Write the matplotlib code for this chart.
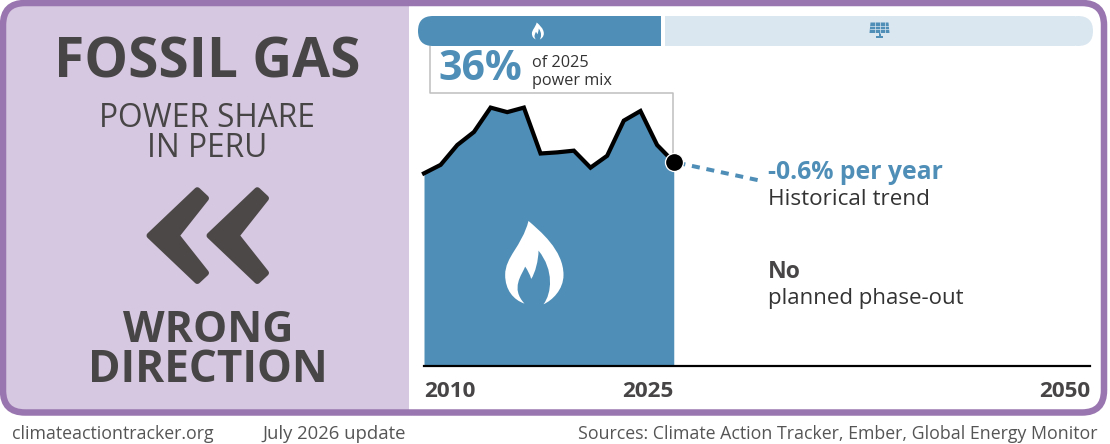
import matplotlib
matplotlib.use("Agg")
import matplotlib.pyplot as plt
from matplotlib.path import Path
from matplotlib.patches import PathPatch, FancyBboxPatch, Rectangle, Polygon

years = list(range(2010, 2026))
share = [34.0, 35.5, 39.0, 41.3, 45.6, 44.8, 45.6, 37.5, 37.7, 38.0, 35.0, 37.1, 43.3, 45.0, 39.0, 36.0]
trend_years = [2025, 2030.05]
trend_values = [36.0, 32.8]
tick_years = [2010, 2025, 2050]

PURPLE = "#9a76b0"; LILAC = "#d6c8e0"; BLUE = "#4f8eb7"; PALE = "#dbe7f0"; DARK = "#474545"; TXT = "#333333"
plt.rcParams["font.family"] = ["Open Sans", "DejaVu Sans"]
W, H = 1110, 444
px = 72 / 100
fig = plt.figure(figsize=(W / 100, H / 100), dpi=100, facecolor="white")
bg = fig.add_axes([0, 0, 1, 1], zorder=1); bg.set_xlim(0, W); bg.set_ylim(H, 0); bg.axis("off")
top = fig.add_axes([0, 0, 1, 1], zorder=10, facecolor="none"); top.set_xlim(0, W); top.set_ylim(H, 0); top.axis("off")

def rounded(x0, y0, x1, y1, r, **kw):
    p = FancyBboxPatch((x0 + r, y0 + r), x1 - x0 - 2 * r, y1 - y0 - 2 * r,
                       boxstyle=f"round,pad={r},rounding_size={r}", **kw)
    bg.add_patch(p); return p

# frame and left panel
ring = rounded(3, 3, 1104, 412.5, 22, fc="white", ec="none", zorder=1)
left = Rectangle((0, 0), 409, H, fc=LILAC, ec="none", zorder=1.5)
bg.add_patch(left); left.set_clip_path(ring)
rounded(3, 3, 1104, 412.5, 22, fc="none", ec=PURPLE, lw=6.5 * px, zorder=3)

def t(x, y, s, size, weight="normal", color=TXT, ha="center", va="center"):
    bg.text(x, y, s, fontsize=size * px, fontweight=weight, color=color, ha=ha, va=va, zorder=6)

t(207, 63, "FOSSIL GAS", 55, "bold", DARK)
t(207, 118, "POWER SHARE", 31.6, "normal", DARK)
t(207, 148, "IN PERU", 31.6, "normal", DARK)
t(208, 330, "WRONG", 43, "bold", DARK)
t(208, 370, "DIRECTION", 44, "bold", DARK)

# chevrons
for dx in (0, 60):
    pts = [(197.3 + dx, 190.2), (206 + dx, 198.3), (176.5 + dx, 235.6),
           (206 + dx, 272.9), (197.3 + dx, 281), (149.5 + dx, 235.6)]
    bg.add_patch(Polygon(pts, closed=True, fc="#4c4848", ec="#4c4848", lw=6 * px, joinstyle="round", zorder=6))

# top bars
bg.add_patch(Rectangle((433, 16), 227.5, 30, fc=BLUE, ec="none", zorder=4))
rounded(418, 16, 448, 46, 15, fc=BLUE, ec="none", zorder=4)
bg.add_patch(Rectangle((665, 16), 410, 30, fc=PALE, ec="none", zorder=4))
rounded(1063, 16, 1093, 46, 15, fc=PALE, ec="none", zorder=4)

# flame icons
FLAME = [(145, 33), (178, 62), (250, 120), (250, 195), (250, 240), (215, 272), (190, 283),
         (215, 250), (222, 180), (175, 122), (175, 150), (165, 190), (153, 207),
         (150, 195), (142, 180), (135, 170), (125, 195), (90, 235), (133, 281),
         (100, 270), (75, 240), (75, 195), (75, 140), (125, 110), (145, 33)]
CODES = [Path.MOVETO] + [Path.CURVE4] * 24
def flame(axis, x0, y0, s):
    v = [(x0 + (a - 160) * s, y0 + (b - 158) * s) for a, b in FLAME]
    axis.add_patch(PathPatch(Path(v, CODES), fc="white", ec="none", zorder=7))
flame(top, 533.5, 262.6, 1 / 3)
flame(top, 537.7, 31, 0.068)

# solar icon
SB = "#4f8eb7"
bg.add_patch(Polygon([(870.5, 22.5), (888.5, 22.5), (889.5, 33), (869.5, 33)], fc=SB, ec="none", zorder=5))
for yy in (26, 29.5):
    bg.plot([870, 889], [yy, yy], color=PALE, lw=0.5, zorder=5.1)
for xx in (874.5, 879.5, 884.5):
    bg.plot([xx, xx], [22.5, 33], color=PALE, lw=0.5, zorder=5.1)
bg.add_patch(Rectangle((878.5, 33), 2, 4, fc=SB, ec="none", zorder=5))
bg.add_patch(Rectangle((876, 36), 7, 1.6, fc=SB, ec="none", zorder=5))

# callout
bg.plot([430, 430, 673, 673], [46, 93, 93, 162], color="#bdbdbd", lw=1.5 * px, zorder=3.5)
t(438, 70, "36%", 41, "bold", BLUE, ha="left")
t(532, 63, "of 2025", 16.2, "normal", TXT, ha="left")
t(532, 81, "power mix", 16.2, "normal", TXT, ha="left")

# chart
x0, x1, base = 424, 1090, 366
hpx = 300
scale = 204 / 36
ax = fig.add_axes([x0 / W, (H - base) / H, (x1 - x0) / W, hpx / H], facecolor="none", zorder=5)
ax.set_xlim(2010, 2050); ax.set_ylim(0, hpx / scale)
ax.fill_between(years, share, 0, color=BLUE, lw=0, zorder=2)
ax.plot(years, share, color="black", lw=4.2 * px, clip_on=False, zorder=3, solid_joinstyle="miter")
ax.plot(trend_years, trend_values, color=BLUE, lw=4 * px, linestyle=(2.75, (2.0, 1.7)), zorder=2)
ax.plot([2025], [36], "o", ms=18 * px, mfc="black", mec="white", mew=1.3 * px, zorder=4, clip_on=False)
for s in ("top", "left", "right"):
    ax.spines[s].set_visible(False)
ax.spines["bottom"].set_linewidth(2.2 * px)
ax.set_yticks([])
ax.set_xticks(tick_years)
ax.set_xticklabels([str(v) for v in tick_years], fontsize=22.5 * px, fontweight="bold", color=DARK)
ax.tick_params(axis="x", length=0, pad=11)
labs = ax.get_xticklabels()
labs[0].set_ha("left"); labs[1].set_ha("right"); labs[2].set_ha("right")

t(768, 172, "-0.6% per year", 24.8, "bold", BLUE, ha="left")
t(768, 199, "Historical trend", 22.5, "normal", TXT, ha="left")
t(768, 272, "No", 23, "bold", DARK, ha="left")
t(768, 298, "planned phase-out", 22.3, "normal", TXT, ha="left")

# footer
FT = "#555555"
t(12, 434, "climateactiontracker.org", 17.8, color=FT, ha="left")
t(262, 434, "July 2026 update", 18.5, color=FT, ha="left")
t(1098, 434, "Sources: Climate Action Tracker, Ember, Global Energy Monitor", 17.7, color=FT, ha="right")

fig.savefig("out.png", dpi=100, facecolor="white")
